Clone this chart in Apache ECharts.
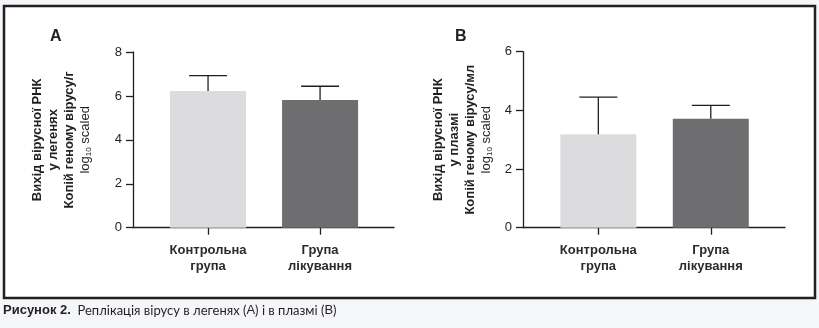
<!DOCTYPE html>
<html><head><meta charset="utf-8">
<script src="https://cdn.jsdelivr.net/npm/echarts@6/dist/echarts.min.js"></script>
<style>html,body{margin:0;padding:0;background:#f4f6f9;}#c{width:819px;height:328px;}</style>
</head><body><div id="c"></div>
<script>
const categories = ['Контрольна\nгрупа', 'Група\nлікування'];
const lungMean = [6.22, 5.81];
const lungUpper = [6.92, 6.44];
const plasmaMean = [3.19, 3.71];
const plasmaUpper = [4.45, 4.17];
const lungTicks = [0, 2, 4, 6, 8];
const plasmaTicks = [0, 2, 4, 6];
const barColors = ['#dcdcde', '#6e6e70'];

const ink = '#231f20';
const FONT = '"Liberation Sans", Arial, sans-serif';

function barData(vals) {
  return vals.map((v, i) => ({ value: [i, v], itemStyle: { color: barColors[i] } }));
}
function errData(mean, upper) {
  return mean.map((m, i) => [i, m, upper[i]]);
}
function errRender(params, api) {
  const x = api.value(0);
  const p0 = api.coord([x, api.value(1)]);
  const p1 = api.coord([x, api.value(2)]);
  const half = 19;
  return {
    type: 'group',
    children: [
      { type: 'line', shape: { x1: p0[0], y1: p0[1], x2: p1[0], y2: p1[1] }, style: { stroke: ink, lineWidth: 1.3 } },
      { type: 'line', shape: { x1: p1[0] - half, y1: p1[1], x2: p1[0] + half, y2: p1[1] }, style: { stroke: ink, lineWidth: 1.3 } }
    ]
  };
}
function xAxis(idx) {
  return {
    type: 'value', gridIndex: idx, min: -0.67, max: 1.66,
    splitLine: { show: false },
    axisLine: { onZero: false, lineStyle: { color: ink, width: 1.3 } },
    axisTick: { customValues: [0, 1], length: 7, lineStyle: { color: ink, width: 1.3 } },
    axisLabel: {
      customValues: [0, 1], margin: 15, lineHeight: 16,
      formatter: v => categories[Math.round(v)],
      color: '#2b2b2b', fontWeight: 'bold', fontSize: 13, fontFamily: FONT
    }
  };
}
function yAxis(idx, ticks, nameLines, gap) {
  return {
    type: 'value', gridIndex: idx, min: ticks[0], max: ticks[ticks.length - 1], interval: ticks[1] - ticks[0],
    splitLine: { show: false },
    axisLine: { show: true, onZero: false, lineStyle: { color: ink, width: 1.3 } },
    axisTick: { show: true, length: 7, lineStyle: { color: ink, width: 1.3 } },
    axisLabel: { margin: 11, color: ink, fontSize: 13, fontFamily: FONT },
    name: nameLines.map(s => '{b|' + s + '}').join('\n') + '\n{n|log}{s|10}{n| scaled}',
    nameLocation: 'middle', nameRotate: 90, nameGap: gap,
    nameTextStyle: {
      fontFamily: FONT, color: ink, lineHeight: 16,
      rich: {
        b: { fontWeight: 'bold', fontSize: 13, fontFamily: FONT, color: ink, lineHeight: 16 },
        n: { fontSize: 13, fontFamily: FONT, color: ink, lineHeight: 16 },
        s: { fontSize: 8, fontFamily: FONT, color: ink, padding: [7, 0, 0, 0], lineHeight: 16 }
      }
    }
  };
}

const chart = echarts.init(document.getElementById('c'), null, { renderer: 'canvas' });
chart.setOption({
  animation: false,
  backgroundColor: '#f4f6f9',
  graphic: [
    { type: 'rect', shape: { x: 4, y: 6, width: 811, height: 292 }, style: { fill: '#ffffff', stroke: ink, lineWidth: 2.5 }, z: -10 },
    { type: 'text', left: 50, top: 29, style: { text: 'A', font: 'bold 16px ' + FONT, fill: ink } },
    { type: 'text', left: 455, top: 29, style: { text: 'B', font: 'bold 16px ' + FONT, fill: ink } },
    { type: 'text', left: 3, top: 304, style: {
        text: '{b|Рисунок 2.}{n|  Реплікація вірусу в легенях (}{m|A}{n|) і в плазмі (}{m|B}{n|)}',
        rich: {
          b: { font: 'bold 13px ' + FONT, fill: ink },
          n: { font: '13px Lato, sans-serif', fill: ink },
          m: { font: '500 13px ' + FONT, fill: ink }
        } } }
  ],
  grid: [
    { left: 133, top: 52, width: 261, height: 175.7 },
    { left: 523, top: 51.7, width: 262, height: 176 }
  ],
  xAxis: [xAxis(0), xAxis(1)],
  yAxis: [
    yAxis(0, lungTicks, ['Вихід вірусної РНК', 'у легенях', 'Копій геному вірусу/г'], 40),
    yAxis(1, plasmaTicks, ['Вихід вірусної РНК', 'у плазмі', 'Копій геному вірусу/мл'], 29)
  ],
  series: [
    { type: 'bar', xAxisIndex: 0, yAxisIndex: 0, barWidth: 76, data: barData(lungMean) },
    { type: 'custom', xAxisIndex: 0, yAxisIndex: 0, renderItem: errRender, data: errData(lungMean, lungUpper), z: 3 },
    { type: 'bar', xAxisIndex: 1, yAxisIndex: 1, barWidth: 76, data: barData(plasmaMean) },
    { type: 'custom', xAxisIndex: 1, yAxisIndex: 1, renderItem: errRender, data: errData(plasmaMean, plasmaUpper), z: 3 }
  ]
});
</script></body></html>
